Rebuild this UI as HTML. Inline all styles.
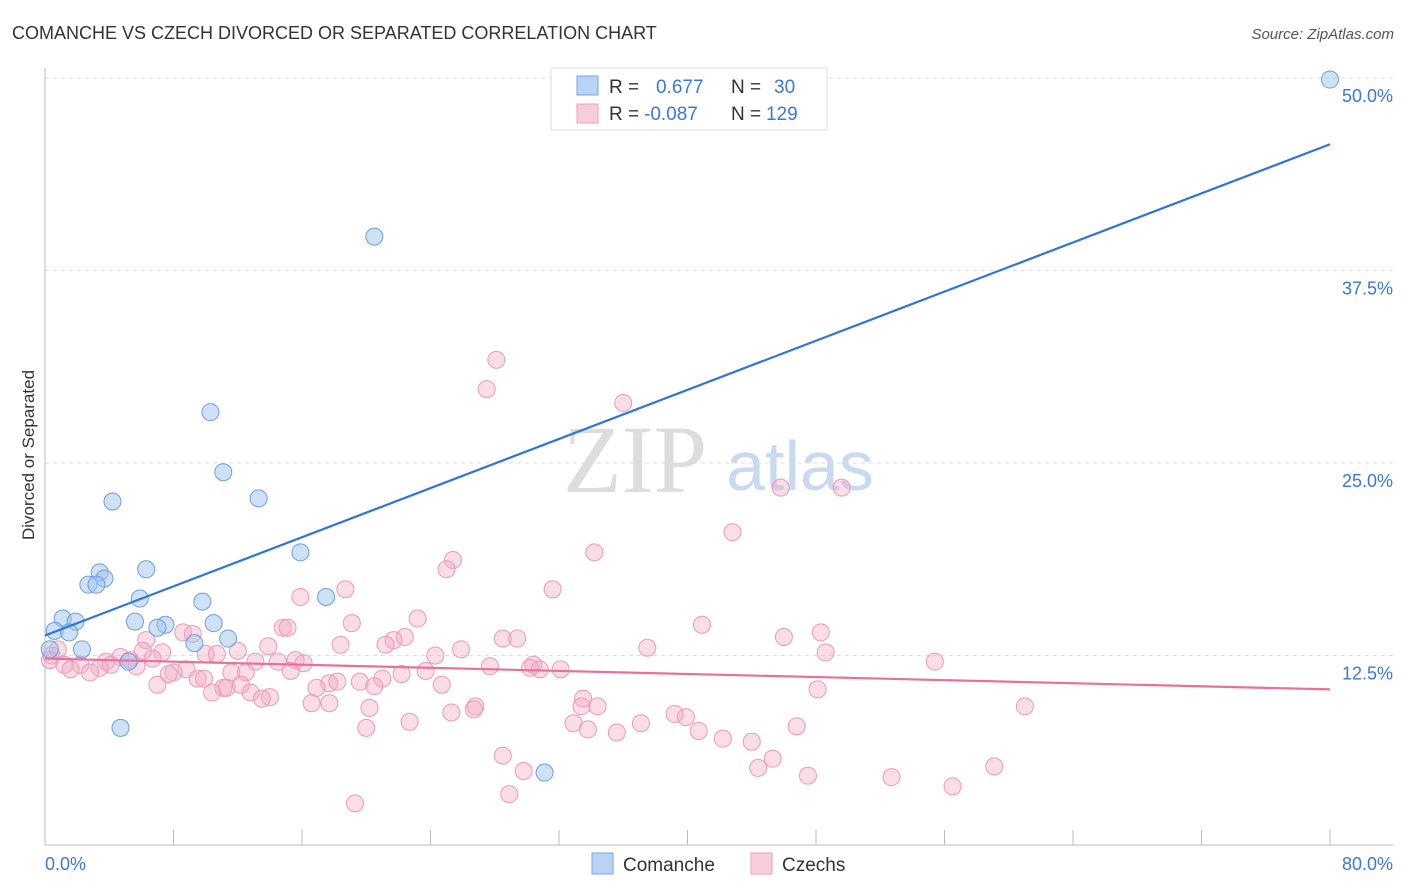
<!DOCTYPE html>
<html><head><meta charset="utf-8">
<style>
body{margin:0;background:#fff;font-family:"Liberation Sans",sans-serif;}
svg{display:block}
</style></head>
<body>
<svg id="chart" width="1406" height="892" xmlns="http://www.w3.org/2000/svg">
<text x="12" y="39" font-size="18" fill="#333">COMANCHE VS CZECH DIVORCED OR SEPARATED CORRELATION CHART</text>
<text x="1394" y="39" font-size="15" fill="#555" font-style="italic" text-anchor="end">Source: ZipAtlas.com</text>
<text x="34" y="455" font-size="17" fill="#333" text-anchor="middle" transform="rotate(-90 34 455)">Divorced or Separated</text>
<g>
<text x="635" y="492" font-size="96" fill="#ddd" font-family="Liberation Serif,serif" text-anchor="middle">ZIP</text>
<text x="800" y="490" font-size="70" fill="#c9daf0" text-anchor="middle">atlas</text>
</g>
<g id="grid"></g>
<g id="axes"></g>
<g id="pink"></g>
<g id="blue"></g>
<g id="lines"></g>
<g>
<rect x="551" y="68" width="276" height="62" fill="#fff" stroke="#ddd"/>
<rect x="577" y="76" width="21" height="19" fill="#b9d3f5" stroke="#7aa6e0"/>
<rect x="577" y="104" width="21" height="19" fill="#f9ccda" stroke="#eea0bb"/>
<text x="609" y="93" font-size="19" fill="#333">R = </text>
<text x="656" y="93" font-size="19" fill="#3b78d8">0.677</text>
<text x="731" y="93" font-size="19" fill="#333">N = </text>
<text x="774" y="93" font-size="19" fill="#3b78d8">30</text>
<text x="609" y="120" font-size="19" fill="#333">R = </text>
<text x="644" y="120" font-size="19" fill="#3b78d8">-0.087</text>
<text x="731" y="120" font-size="19" fill="#333">N = </text>
<text x="766" y="120" font-size="19" fill="#3b78d8">129</text>
</g>
<g>
<rect x="592" y="853" width="21" height="21" fill="#b9d3f5" stroke="#7aa6e0"/>
<text x="623" y="871" font-size="19" fill="#333">Comanche</text>
<rect x="751" y="853" width="21" height="21" fill="#f9ccda" stroke="#eea0bb"/>
<text x="782" y="871" font-size="19" fill="#333">Czechs</text>
</g>
</svg>
<script>
const yTicks=[12.5,25,37.5,50];
const yTickLabels=["12.5%","25.0%","37.5%","50.0%"];
const xTickVals=[0,8,16,24,32,40,48,56,64,72,80];
const xEndLabels=["0.0%","80.0%"];
const blueX=[80,20.5,10.3,11.1,4.2,13.3,15.9,6.3,3.4,3.7,2.7,3.2,5.9,17.5,9.8,1.1,1.9,5.6,7.5,7.0,10.5,0.6,1.5,11.4,9.3,2.3,0.3,5.2,4.7,31.1];
const blueY=[49.9,39.7,28.3,24.4,22.5,22.7,19.2,18.1,17.9,17.5,17.1,17.1,16.2,16.3,16.0,14.9,14.7,14.7,14.5,14.3,14.6,14.1,14.0,13.6,13.3,12.9,12.9,12.1,7.8,4.9];
const pinkX=[28.1,27.5,36.0,45.8,49.6,42.8,34.2,25.4,25.0,18.7,31.6,15.9,23.2,19.1,40.9,14.8,15.1,48.3,8.6,9.2,6.3,22.4,21.7,28.5,29.4,46.0,21.2,18.4,13.9,37.5,25.9,48.6,7.3,6.1,12.0,10.0,10.7,0.8,4.7,24.3,6.7,5.3,15.6,16.1,13.1,14.5,3.8,2.2,55.4,27.7,30.4,30.8,32.1,30.2,4.1,5.7,3.4,1.2,1.6,2.8,8.8,8.0,12.5,11.6,15.3,21.0,22.2,23.7,9.5,7.7,7.0,9.9,17.7,18.2,19.6,20.5,24.7,11.1,11.3,12.2,12.8,10.4,16.9,48.1,14.0,13.5,16.6,17.7,26.8,26.7,33.5,33.4,34.4,20.2,25.3,39.2,39.9,61.0,22.7,37.1,32.9,33.8,35.6,40.7,46.8,20.0,42.2,44.0,28.5,45.3,44.4,29.8,47.5,52.7,59.1,56.5,28.9,19.3,0.4,0.3];
const pinkY=[31.7,29.8,28.9,23.4,23.4,20.5,19.2,18.7,18.1,16.8,16.8,16.3,14.9,14.6,14.5,14.3,14.3,14.0,14.0,13.9,13.5,13.7,13.5,13.6,13.6,13.7,13.2,13.2,13.1,13.0,12.9,12.7,12.7,12.8,12.8,12.6,12.6,12.9,12.4,12.5,12.3,12.2,12.2,12.0,12.1,12.1,12.1,11.9,12.1,11.8,11.9,11.6,11.6,11.7,11.9,11.8,11.7,11.9,11.6,11.4,11.6,11.4,11.4,11.4,11.5,11.0,11.3,11.5,11.0,11.3,10.6,11.0,10.7,10.8,10.8,10.5,10.6,10.4,10.4,10.6,10.1,10.1,10.4,10.3,9.8,9.7,9.4,9.4,9.2,9.0,9.7,9.2,9.2,9.1,8.8,8.7,8.5,9.2,8.2,8.1,8.1,7.7,7.5,7.6,7.9,7.8,7.1,6.9,6.0,5.8,5.2,5.0,4.7,4.6,5.3,4.0,3.5,2.9,12.5,12.2];
const blueTrendX=[0,80], blueTrendY=[13.8,45.7];
const pinkTrendX=[0,80], pinkTrendY=[12.3,10.3];

const NS="http://www.w3.org/2000/svg";
const X0=45,X1=1330,Y0=848,PXPERPCT=770/50;
const sx=v=>X0+(v/80)*(X1-X0);
const sy=v=>Y0-v*PXPERPCT;
function mk(tag,attrs,parent){const e=document.createElementNS(NS,tag);for(const k in attrs)e.setAttribute(k,attrs[k]);parent.appendChild(e);return e;}
const grid=document.getElementById('grid');
yTicks.forEach((t,i)=>{
  const l=mk('line',{x1:45,x2:1393,y1:sy(t),y2:sy(t),stroke:'#ddd','stroke-dasharray':'4,4'},grid);
  
  
  const tx=mk('text',{x:1393,y:sy(t)+24,'font-size':18,fill:'#3b78d8','text-anchor':'end'},grid);
  tx.textContent=yTickLabels[i];
  
  
});
const axes=document.getElementById('axes');
const xa=mk('line',{x1:45,x2:1393,y1:845,y2:845,stroke:'#bbb'},axes);


const ya=mk('line',{x1:45,x2:45,y1:68,y2:845,stroke:'#bbb'},axes);


xTickVals.forEach(v=>{
  const t=mk('line',{x1:sx(v),x2:sx(v),y1:830,y2:845,stroke:'#bbb'},axes);
  
  
});
const l0=mk('text',{x:45,y:870,'font-size':18,fill:'#3b78d8'},axes);
l0.textContent=xEndLabels[0];


const l1=mk('text',{x:1393,y:870,'font-size':18,fill:'#3b78d8','text-anchor':'end'},axes);
l1.textContent=xEndLabels[1];


const pg=document.getElementById('pink');
pinkX.forEach((x,i)=>{
  const c=mk('circle',{cx:sx(x),cy:sy(pinkY[i]),r:8.5,fill:'rgba(244,170,195,0.4)',stroke:'#eb9ab7','stroke-width':1},pg);
  
  
});
const bg=document.getElementById('blue');
blueX.forEach((x,i)=>{
  const c=mk('circle',{cx:sx(x),cy:sy(blueY[i]),r:8.5,fill:'rgba(160,196,240,0.5)',stroke:'#6c9fe0','stroke-width':1},bg);
  
  
});
const lg=document.getElementById('lines');
const bl=mk('line',{x1:sx(blueTrendX[0]),y1:sy(blueTrendY[0]),x2:sx(blueTrendX[1]),y2:sy(blueTrendY[1]),stroke:'#2f74d8','stroke-width':2.2},lg);


const pl=mk('line',{x1:sx(pinkTrendX[0]),y1:sy(pinkTrendY[0]),x2:sx(pinkTrendX[1]),y2:sy(pinkTrendY[1]),stroke:'#e8709a','stroke-width':2.2},lg);


</script>
</body></html>
